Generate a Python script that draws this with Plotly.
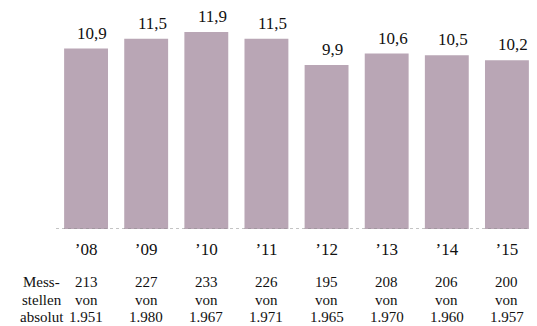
import plotly.graph_objects as go

years = ["’08", "’09", "’10", "’11", "’12", "’13", "’14", "’15"]
values = [10.9, 11.5, 11.9, 11.5, 9.9, 10.6, 10.5, 10.2]
value_labels = ["10,9", "11,5", "11,9", "11,5", "9,9", "10,6", "10,5", "10,2"]
messstellen = ["213", "227", "233", "226", "195", "208", "206", "200"]
gesamt = ["1.951", "1.980", "1.967", "1.971", "1.965", "1.970", "1.960", "1.957"]
row_header = ["Mess-", "stellen", "absolut"]

FONT = "Liberation Serif"
BAR_COLOR = "#B9A6B5"
TXT = "#111111"
ROW_Y = [-0.242, -0.324, -0.402]

fig = go.Figure()
fig.add_trace(go.Bar(x=years, y=values, marker=dict(color=BAR_COLOR, line=dict(width=0)),
                     hoverinfo="skip"))

annotations = []
for yr, v, lab in zip(years, values, value_labels):
    annotations.append(dict(x=yr, y=v, xref="x", yref="y", text=lab, showarrow=False,
                            yanchor="bottom", xshift=6, yshift=4,
                            font=dict(family=FONT, size=17, color=TXT)))
for yr, m, g in zip(years, messstellen, gesamt):
    for txt, ry in zip([m, "von", g], ROW_Y):
        annotations.append(dict(x=yr, y=ry, xref="x", yref="paper", text=txt,
                                showarrow=False, yanchor="middle",
                                font=dict(family=FONT, size=15, color=TXT)))
for txt, ry in zip(row_header, ROW_Y):
    annotations.append(dict(x=-0.03, y=ry, xref="paper", yref="paper", text=txt,
                            showarrow=False, yanchor="middle", xanchor="center",
                            font=dict(family=FONT, size=15, color=TXT)))

# page has an 8px body margin, so the figure is sized/offset to compensate
fig.update_layout(
    width=529, height=318,
    margin=dict(l=48, r=0, t=2, b=97),
    paper_bgcolor="white", plot_bgcolor="white",
    bargap=0.27,
    showlegend=False,
    font=dict(family=FONT, color=TXT),
    xaxis=dict(showgrid=False, zeroline=False, showline=False, ticks="",
               tickfont=dict(family=FONT, size=17, color=TXT),
               ticklabelstandoff=8, fixedrange=True),
    yaxis=dict(range=[0, 13.23], visible=False, showgrid=False, zeroline=False,
               fixedrange=True),
    annotations=annotations,
    shapes=[dict(type="line", xref="paper", yref="y", x0=0, x1=1, y0=0, y1=0,
                 line=dict(color="#888888", width=1, dash="dot"))],
)

fig.write_html("out.html", config={"displayModeBar": False})
